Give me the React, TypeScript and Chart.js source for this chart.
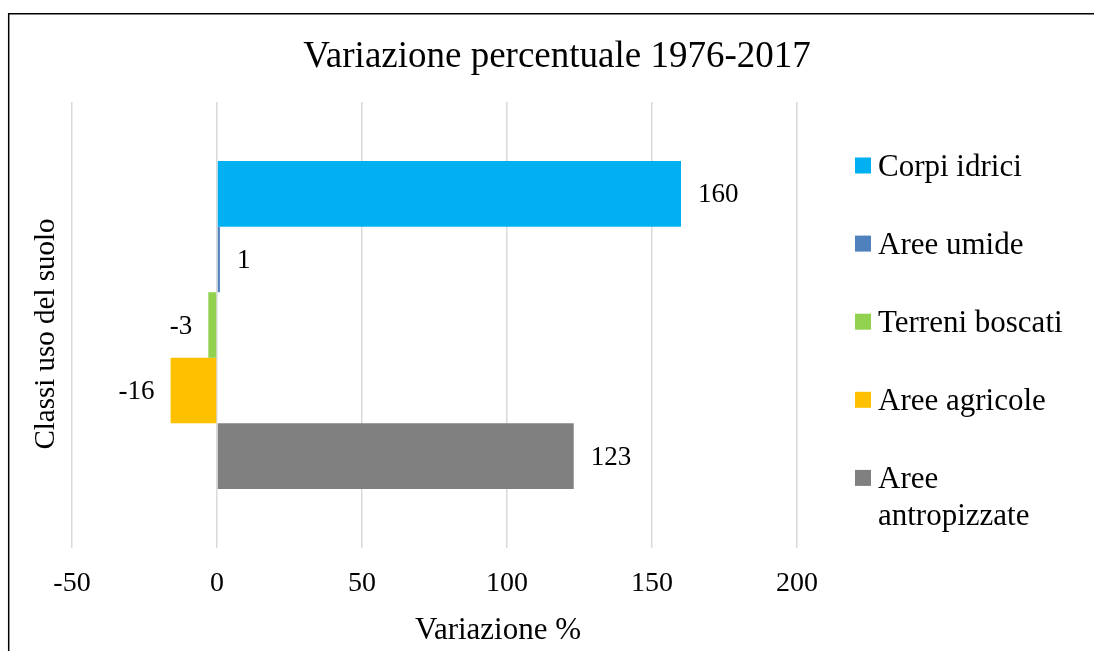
import React, { useEffect, useRef } from "react";
import { Chart, registerables } from "chart.js";

Chart.register(...registerables);

const chartTitle = "Variazione percentuale 1976-2017";
const xAxisTitle = "Variazione %";
const yAxisTitle = "Classi uso del suolo";
const categories = [""];
const seriesNames = ["Corpi idrici", "Aree umide", "Terreni boscati", "Aree agricole", "Aree antropizzate"];
const seriesValues = [160, 1, -3, -16, 123];
const seriesColors = ["#00B0F0", "#4F81BD", "#92D050", "#FFC000", "#808080"];
const xTicks = [-50, 0, 50, 100, 150, 200];

const FONT = "'Liberation Serif', 'Times New Roman', serif";
const W = 1094;
const H = 651;

const customPlugin = {
  id: "customDecor",
  beforeDraw(chart: any) {
    const ctx = chart.ctx;
    ctx.save();
    ctx.fillStyle = "#ffffff";
    ctx.fillRect(0, 0, chart.width, chart.height);
    ctx.restore();
  },
  afterDraw(chart: any) {
    const ctx = chart.ctx;
    const area = chart.chartArea;
    ctx.save();
    // outer frame (top and left edges visible)
    ctx.strokeStyle = "#000";
    ctx.lineWidth = 1.5;
    ctx.beginPath();
    ctx.moveTo(8.7, chart.height);
    ctx.lineTo(8.7, 13.7);
    ctx.lineTo(chart.width, 13.7);
    ctx.stroke();

    // data labels
    ctx.fillStyle = "#000";
    ctx.font = `27px ${FONT}`;
    ctx.textBaseline = "middle";
    chart.data.datasets.forEach((ds: any, i: number) => {
      const meta = chart.getDatasetMeta(i);
      meta.data.forEach((el: any, j: number) => {
        const v = ds.data[j];
        const txt = String(v);
        if (v >= 0) {
          ctx.textAlign = "left";
          ctx.fillText(txt, el.x + 17, el.y + 1.5);
        } else {
          ctx.textAlign = "right";
          ctx.fillText(txt, el.x - 16, el.y + 1.5);
        }
      });
    });

    // axis titles
    ctx.font = `31px ${FONT}`;
    ctx.textAlign = "center";
    ctx.textBaseline = "alphabetic";
    ctx.fillText(xAxisTitle, 498, 638.5);

    ctx.save();
    ctx.font = `29px ${FONT}`;
    ctx.translate(54, 334);
    ctx.rotate(-Math.PI / 2);
    ctx.textAlign = "center";
    ctx.textBaseline = "alphabetic";
    ctx.fillText(yAxisTitle, 0, 0);
    ctx.restore();

    // legend
    const legendX = area.right + 58;
    const firstY = area.top + 63.5;
    const step = 78.1;
    const boxSize = 16;
    const textX = legendX + 23;
    const maxTextW = 200;
    const lineGap = 36.7;
    ctx.font = `31px ${FONT}`;
    ctx.textAlign = "left";
    ctx.textBaseline = "alphabetic";
    chart.data.datasets.forEach((ds: any, i: number) => {
      const cy = firstY + i * step;
      ctx.fillStyle = ds.backgroundColor;
      ctx.fillRect(legendX, cy - boxSize / 2, boxSize, boxSize);
      ctx.fillStyle = "#000";
      const words = String(ds.label).split(" ");
      const lines: string[] = [];
      let cur = "";
      words.forEach((w) => {
        const test = cur ? cur + " " + w : w;
        if (ctx.measureText(test).width > maxTextW && cur) {
          lines.push(cur);
          cur = w;
        } else {
          cur = test;
        }
      });
      if (cur) lines.push(cur);
      lines.forEach((ln, k) => {
        ctx.fillText(ln, textX, cy + 10 + k * lineGap);
      });
    });
    ctx.restore();
  },
};

export default function App() {
  const canvasRef = useRef<HTMLCanvasElement | null>(null);

  useEffect(() => {
    const canvas = canvasRef.current;
    if (!canvas) return;
    const chart = new Chart(canvas, {
      type: "bar",
      data: {
        labels: categories,
        datasets: seriesNames.map((name, i) => ({
          label: name,
          data: [seriesValues[i]],
          backgroundColor: seriesColors[i],
          borderWidth: 0,
          categoryPercentage: 0.735,
          barPercentage: 1,
        })),
      },
      options: {
        indexAxis: "y",
        responsive: false,
        animation: false,
        devicePixelRatio: 1,
        layout: { padding: { left: 20, right: 0, top: 0, bottom: 0 } },
        plugins: {
          legend: { display: false },
          tooltip: { enabled: false },
          title: {
            display: true,
            text: chartTitle,
            color: "#000",
            font: { family: FONT, size: 37, weight: "normal" },
            padding: { top: 35.5, bottom: 22.1 },
          },
        },
        scales: {
          x: {
            type: "linear",
            position: "bottom",
            min: -50,
            max: 200,
            afterBuildTicks: (scale: any) => {
              scale.ticks = xTicks.map((v) => ({ value: v }));
            },
            ticks: {
              color: "#000",
              font: { family: FONT, size: 28 },
              padding: 19,
            },
            grid: { color: "#d9d9d9", lineWidth: 1.5, drawTicks: false },
            border: { display: false },
            afterFit: (scale: any) => {
              scale.height = H - 548;
            },
          },
          y: {
            type: "category",
            position: "left",
            ticks: { display: false },
            grid: { display: false, drawTicks: false },
            border: { display: false },
            afterFit: (scale: any) => {
              scale.width = 52;
            },
          },
          yRight: {
            type: "linear",
            position: "right",
            ticks: { display: false },
            grid: { display: false, drawTicks: false },
            border: { display: false },
            afterFit: (scale: any) => {
              scale.width = W - 797;
            },
          },
        },
      } as any,
      plugins: [customPlugin],
    });
    return () => chart.destroy();
  }, []);

  return (
    <div style={{ position: "fixed", left: 0, top: 0, width: W, height: H, overflow: "hidden", background: "#fff" }}>
      <canvas ref={canvasRef} width={W} height={H} style={{ position: "absolute", left: 0, top: 0, width: W, height: H }} />
    </div>
  );
}
